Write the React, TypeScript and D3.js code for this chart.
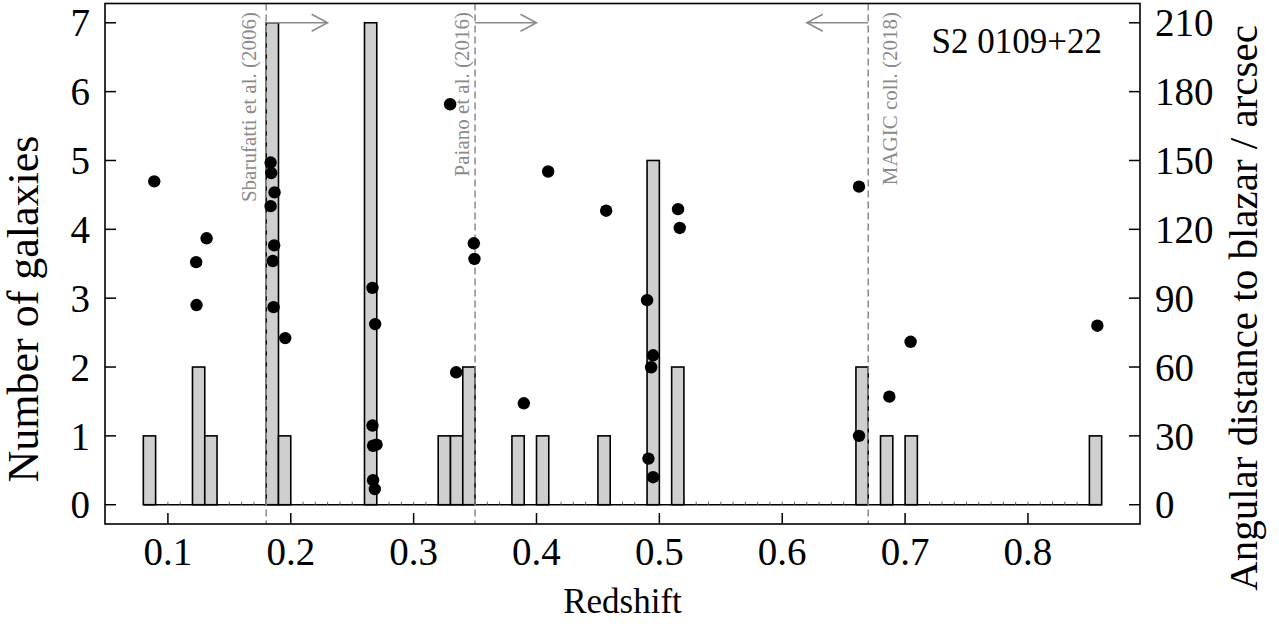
import React from "react";
import * as d3 from "d3";

// Histogram: bins of width 0.01 (start of each non-empty bin) and counts
const binStarts = [0.08, 0.12, 0.13, 0.18, 0.19, 0.26, 0.32, 0.33, 0.34, 0.38, 0.40, 0.45, 0.49, 0.51, 0.66, 0.68, 0.70, 0.85];
const binCounts = [1, 2, 1, 7, 1, 7, 1, 1, 2, 1, 1, 1, 5, 2, 2, 1, 1, 1];
const binWidth = 0.01;
const histMin = 0.08;
const histMax = 0.86;

// Galaxies: redshift and angular distance (arcsec)
const galaxyZ = [0.0889, 0.1315, 0.123, 0.1233, 0.1836, 0.1841, 0.1868, 0.1836, 0.1865, 0.1854, 0.186, 0.1955,
  0.2665, 0.2687, 0.2665, 0.267, 0.2698, 0.267, 0.2684, 0.3297, 0.3346, 0.349, 0.3495, 0.4095, 0.3897, 0.4567,
  0.49, 0.4949, 0.4933, 0.4911, 0.4949, 0.5152, 0.5166, 0.6625, 0.6625, 0.6872, 0.7045, 0.8565];
const galaxyDist = [140.9, 116.1, 105.7, 87.0, 149.1, 144.5, 136.1, 130.1, 113.0, 106.2, 86.1, 72.6,
  94.5, 78.7, 34.5, 25.7, 26.2, 10.7, 6.8, 174.5, 57.7, 113.9, 107.1, 145.2, 44.2, 128.1,
  89.1, 65.1, 59.9, 20.1, 12.0, 128.8, 120.6, 138.6, 30.0, 47.1, 71.0, 78.0];

// Redshift limits from the literature
const refZ = [0.18, 0.35, 0.67];
const refLabels = ["Sbarufatti et al. (2006)", "Paiano et al. (2016)", "MAGIC coll. (2018)"];
const refDirection = [1, 1, -1];
const arrowLength = 0.05;
const arrowLevel = 7;

const xTicks = [0.1, 0.2, 0.3, 0.4, 0.5, 0.6, 0.7, 0.8];
const yTicks = [0, 1, 2, 3, 4, 5, 6, 7];
const y2Ticks = [0, 30, 60, 90, 120, 150, 180, 210];

const title = "S2 0109+22";
const xTitle = "Redshift";
const yTitle = "Number of galaxies";
const y2Title = "Angular distance to blazar / arcsec";

export default function App() {
  const W = 1279, H = 624;
  const L = 105, R = 1140, T = 3.5, B = 524;
  const FONT = "'Liberation Serif', 'Times New Roman', serif";

  const ext = 0.04 * (histMax - histMin);
  const x = d3.scaleLinear().domain([histMin - ext, histMax + ext]).range([L, R]);
  const y = d3.scaleLinear().domain([-0.28, 7.28]).range([B, T]);
  const y2 = d3.scaleLinear().domain([-0.28 * 30, 7.28 * 30]).range([B, T]);

  const edges = d3.range(Math.round((histMax - histMin) / binWidth) + 1).map((i) => histMin + i * binWidth);
  const tickLen = 11;
  const gray = "#8a8a8a";

  return (
    <svg width={W} height={H} style={{ position: "fixed", left: 0, top: 0, background: "#fff" }} fontFamily={FONT}>
      {/* baseline with small edge ticks for empty bins */}
      <line x1={x(histMin)} x2={x(histMax)} y1={y(0)} y2={y(0)} stroke="#000" strokeWidth={1.6} />
      {edges.map((e, i) => (
        <line key={"e" + i} x1={x(e)} x2={x(e)} y1={y(0)} y2={y(0) - 3} stroke="#666" strokeWidth={1} />
      ))}
      {/* bars */}
      {binStarts.map((s, i) => (
        <rect key={"b" + i} x={x(s)} y={y(binCounts[i])} width={x(s + binWidth) - x(s)} height={y(0) - y(binCounts[i])}
          fill="#cfcfcf" stroke="#000" strokeWidth={1.6} />
      ))}
      {/* reference lines */}
      {refZ.map((z, i) => {
        const x0 = x(z);
        const x1 = x(z + refDirection[i] * arrowLength);
        const ya = y(arrowLevel);
        const dir = refDirection[i];
        const labelX = dir > 0 ? x0 - (i === 0 ? 10 : 6) : x0 + 29;
        return (
          <g key={"r" + i}>
            <line x1={x0} x2={x0} y1={T} y2={B} stroke={gray} strokeWidth={1.5} strokeDasharray="7,4" />
            <line x1={x0} x2={x1} y1={ya} y2={ya} stroke={gray} strokeWidth={1.5} />
            <polyline points={`${x1 - dir * 16},${ya - 8.5} ${x1},${ya} ${x1 - dir * 16},${ya + 8.5}`} fill="none" stroke={gray} strokeWidth={1.5} />
            <text transform={`translate(${labelX},${12}) rotate(-90)`} textAnchor="end" fontSize={21} fill={gray}>{refLabels[i]}</text>
          </g>
        );
      })}
      {/* points */}
      {galaxyZ.map((z, i) => (
        <circle key={"p" + i} cx={x(z)} cy={y2(galaxyDist[i])} r={6.2} fill="#000" />
      ))}
      {/* frame */}
      <rect x={L} y={T} width={R - L} height={B - T} fill="none" stroke="#000" strokeWidth={1.6} />
      {/* x ticks */}
      {xTicks.map((t) => (
        <g key={"x" + t}>
          <line x1={x(t)} x2={x(t)} y1={B} y2={B - tickLen} stroke="#000" strokeWidth={1.5} />
          <text x={x(t)} y={565} textAnchor="middle" fontSize={39}>{t.toFixed(1)}</text>
        </g>
      ))}
      {/* left ticks */}
      {yTicks.map((t) => (
        <g key={"y" + t}>
          <line x1={L} x2={L + tickLen} y1={y(t)} y2={y(t)} stroke="#000" strokeWidth={1.5} />
          <text x={90} y={y(t)} dy="0.35em" textAnchor="end" fontSize={39}>{t}</text>
        </g>
      ))}
      {/* right ticks */}
      {y2Ticks.map((t) => (
        <g key={"y2" + t}>
          <line x1={R - tickLen} x2={R} y1={y2(t)} y2={y2(t)} stroke="#000" strokeWidth={1.5} />
          <text x={1155} y={y2(t)} dy="0.35em" textAnchor="start" fontSize={39}>{t}</text>
        </g>
      ))}
      {/* titles */}
      <text x={1102} y={53} textAnchor="end" fontSize={35}>{title}</text>
      <text x={(L + R) / 2} y={613} textAnchor="middle" fontSize={35}>{xTitle}</text>
      <text transform={`translate(38,${309}) rotate(-90)`} textAnchor="middle" fontSize={44}>{yTitle}</text>
      <text transform={`translate(1257,${308}) rotate(-90)`} textAnchor="middle" fontSize={41}>{y2Title}</text>
    </svg>
  );
}
